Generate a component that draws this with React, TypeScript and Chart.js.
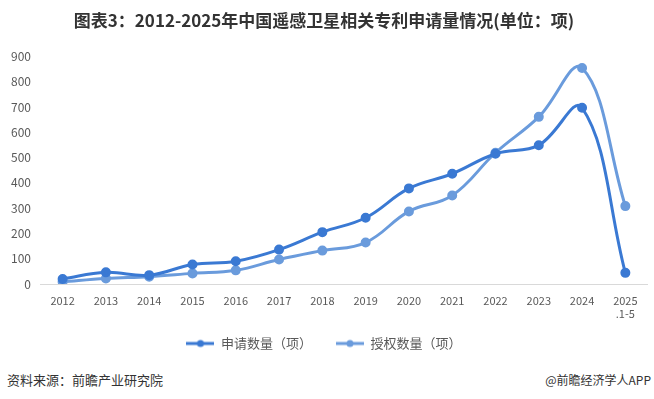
import React, { useEffect, useRef } from "react";
import { Chart, registerables } from "chart.js";

Chart.register(...registerables);

const categories: (string | string[])[] = ["2012", "2013", "2014", "2015", "2016", "2017", "2018", "2019", "2020", "2021", "2022", "2023", "2024", ["2025", ".1-5"]];
const applyValues = [20, 46, 35, 77, 90, 136, 205, 262, 378, 436, 515, 549, 697, 44];
const grantValues = [9, 22, 29, 42, 54, 97, 132, 164, 287, 350, 519, 661, 854, 308];
const yTicks = [0, 100, 200, 300, 400, 500, 600, 700, 800, 900];

const applyColor = "#3A79D3";
const grantColor = "#6A9BDC";
const FONT = "'Noto Sans CJK SC', 'Microsoft YaHei', sans-serif";

function legendIcon(color: string): HTMLCanvasElement {
  const c = document.createElement("canvas");
  c.width = 28;
  c.height = 10;
  const ctx = c.getContext("2d")!;
  ctx.strokeStyle = color;
  ctx.lineWidth = 3;
  ctx.beginPath();
  ctx.moveTo(0, 5);
  ctx.lineTo(28, 5);
  ctx.stroke();
  ctx.fillStyle = color;
  ctx.beginPath();
  ctx.arc(14, 5, 3.5, 0, Math.PI * 2);
  ctx.fill();
  return c;
}

// lets the two-line x labels extend below the (shortened) axis box without clipping
const unclipXLabels = {
  id: "unclipXLabels",
  afterLayout(chart: any) {
    const x = chart.scales.x;
    if (x) x.bottom = x.top + 40;
  },
};

export default function App() {
  const ref = useRef<HTMLCanvasElement>(null);
  useEffect(() => {
    document.body.style.margin = "0";
    const chart = new Chart(ref.current!, {
      type: "line",
      data: {
        labels: categories,
        datasets: [
          {
            label: "申请数量（项）",
            data: applyValues,
            borderColor: applyColor,
            backgroundColor: applyColor,
            borderWidth: 3,
            pointRadius: 3.5,
            pointHoverRadius: 3.5,
            tension: 0.4,
          },
          {
            label: "授权数量（项）",
            data: grantValues,
            borderColor: grantColor,
            backgroundColor: grantColor,
            borderWidth: 3,
            pointRadius: 3.5,
            pointHoverRadius: 3.5,
            tension: 0.4,
          },
        ],
      },
      options: {
        animation: false,
        responsive: false,
        layout: { padding: { left: 1, right: 7, top: 0, bottom: 0 } },
        plugins: {
          tooltip: { enabled: false },
          title: {
            display: true,
            text: "图表3：2012-2025年中国遥感卫星相关专利申请量情况(单位：项)",
            color: "#333333",
            font: { family: FONT, size: 17, weight: "bold" },
            padding: { top: 10, bottom: 26 },
          },
          legend: {
            position: "bottom",
            labels: {
              usePointStyle: true,
              pointStyleWidth: 28,
              boxHeight: 10,
              color: "#595959",
              font: { family: FONT, size: 13 },
              padding: 24,
              generateLabels: (ch: any) =>
                ch.data.datasets.map((ds: any, i: number) => ({
                  text: ds.label,
                  fillStyle: ds.borderColor,
                  strokeStyle: ds.borderColor,
                  pointStyle: legendIcon(ds.borderColor),
                  datasetIndex: i,
                  fontColor: "#595959",
                })),
            },
          },
        },
        scales: {
          x: {
            offset: true,
            grid: { display: false, drawTicks: false },
            border: { display: true, color: "#D9D9D9", width: 1 },
            ticks: { color: "#595959", font: { family: FONT, size: 11 }, maxRotation: 0, autoSkip: false, padding: 10 },
            afterFit: (scale: any) => {
              scale.height = 29;
            },
          },
          y: {
            min: 0,
            max: 900,
            afterBuildTicks: (axis: any) => {
              axis.ticks = yTicks.map((v) => ({ value: v }));
            },
            grid: { display: false, drawTicks: false },
            border: { display: false },
            ticks: { color: "#595959", font: { family: FONT, size: 12 }, padding: 10 },
          },
        },
      },
      plugins: [unclipXLabels],
    });
    return () => chart.destroy();
  }, []);
  return (
    <div style={{ position: "relative", width: 654, height: 399, background: "#fff" }}>
      <canvas ref={ref} width={654} height={360} style={{ display: "block" }} />
      <div style={{ position: "absolute", left: 7, top: 370, fontFamily: FONT, fontSize: 13, color: "#333" }}>
        资料来源：前瞻产业研究院
      </div>
      <div style={{ position: "absolute", right: 3, top: 371, fontFamily: FONT, fontSize: 12, color: "#333" }}>
        @前瞻经济学人APP
      </div>
    </div>
  );
}
